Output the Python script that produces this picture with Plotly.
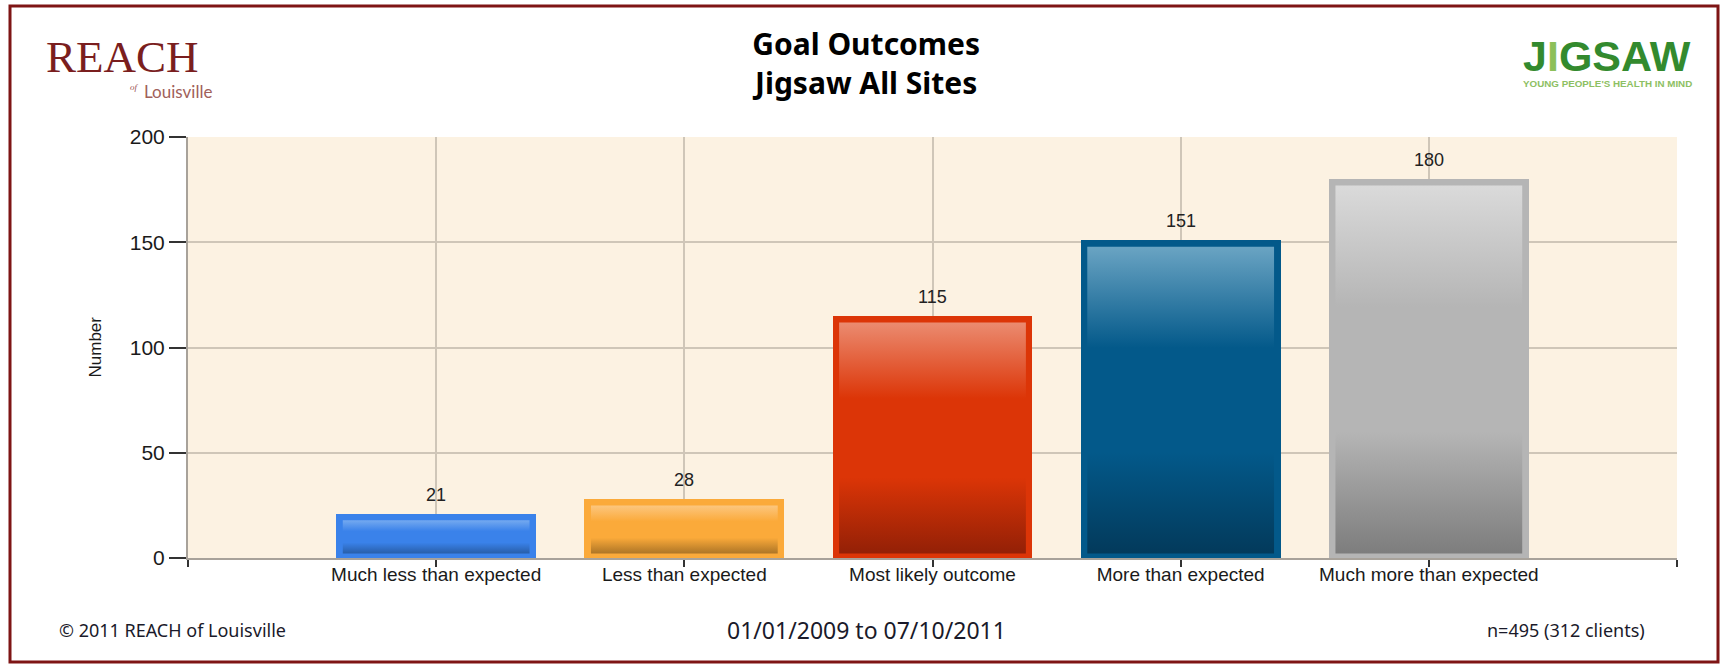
import plotly.graph_objects as go

# ---------------- data ----------------
categories = ["Much less than expected", "Less than expected", "Most likely outcome",
              "More than expected", "Much more than expected"]
values = [21, 28, 115, 151, 180]
base_colors = ["#3a82ea", "#fbaa3a", "#dc3507", "#03598a", "#b5b5b5"]
light_colors = ["#74a9f0", "#fcc67e", "#eb8b70", "#6aa4c3", "#dadada"]
dark_colors = ["#285ea8", "#ad7526", "#932006", "#033a5b", "#7d7d7d"]
y_ticks = [0, 50, 100, 150, 200]
title_lines = ["Goal Outcomes", "Jigsaw All Sites"]
footer_left = "© 2011 REACH of Louisville"
footer_center = "01/01/2009 to 07/10/2011"
footer_right = "n=495 (312 clients)"

# ---------------- geometry ----------------
W, H = 1728, 665
ML, MR, MT, MB = 188, 51, 137, 107
PW, PH = W - ML - MR, H - MT - MB
Y_MAX = 200
n = len(categories)
x_idx = list(range(n))
bar_w = 0.805
px_x = PW / (n + 1)      # pixels per x unit (range -1..n)
px_y = PH / Y_MAX        # pixels per y unit


def px(xp):  # pixel -> paper x
    return (xp - ML) / PW


def py(yp):  # pixel -> paper y
    return (H - MB - yp) / PH


fig = go.Figure()

# solid bars (border colour)
fig.add_trace(go.Bar(
    x=x_idx, y=values, width=bar_w,
    marker=dict(color=base_colors, line=dict(width=0)),
    hoverinfo="x+y", showlegend=False,
))

# gradient inner panels
inset_x = 6.5 / px_x
inset_top = 6.5 / px_y
inset_bot = 4.5 / px_y
for i, v in enumerate(values):
    x0 = x_idx[i] - bar_w / 2 + inset_x
    x1 = x_idx[i] + bar_w / 2 - inset_x
    y0 = inset_bot
    y1 = v - inset_top
    fig.add_trace(go.Scatter(
        x=[x0, x1, x1, x0, x0], y=[y0, y0, y1, y1, y0],
        mode="lines", line=dict(width=0), fill="toself",
        fillgradient=dict(type="vertical", colorscale=[
            [0, dark_colors[i]], [0.33, base_colors[i]],
            [0.67, base_colors[i]], [1, light_colors[i]]]),
        hoverinfo="skip", showlegend=False,
    ))

annotations = []
# value labels
for i, v in enumerate(values):
    annotations.append(dict(
        x=x_idx[i], y=v, xref="x", yref="y", text=str(v), showarrow=False,
        yanchor="bottom", yshift=7,
        font=dict(family="Liberation Sans, Arial", size=18, color="#222222")))

# y axis title
annotations.append(dict(
    x=px(95), y=0.5, xref="paper", yref="paper", text="Number", textangle=-90,
    showarrow=False, xanchor="center", yanchor="middle",
    font=dict(family="Liberation Sans, Arial", size=17, color="#1a1a1a")))

# footer
annotations.append(dict(
    x=px(57), y=py(630), xref="paper", yref="paper", text=footer_left, showarrow=False,
    xanchor="left", yanchor="middle",
    font=dict(family="Noto Sans", size=18, color="#1a1a2a")))
annotations.append(dict(
    x=px(866), y=py(630), xref="paper", yref="paper", text=footer_center, showarrow=False,
    xanchor="center", yanchor="middle",
    font=dict(family="Noto Sans", size=23, color="#1a1a2a")))
annotations.append(dict(
    x=px(1647), y=py(630), xref="paper", yref="paper", text=footer_right, showarrow=False,
    xanchor="right", yanchor="middle",
    font=dict(family="Noto Sans", size=18, color="#1a1a2a")))

# title
annotations.append(dict(
    x=px(866), y=py(21), xref="paper", yref="paper",
    text="<br>".join("<b>%s</b>" % t for t in title_lines), showarrow=False,
    xanchor="center", yanchor="top",
    font=dict(family="Noto Sans", size=30, color="#000000")))

# REACH logo (text)
annotations.append(dict(
    x=px(44), y=py(57), xref="paper", yref="paper", text="REACH", showarrow=False,
    xanchor="left", yanchor="middle",
    font=dict(family="Liberation Serif", size=45, color="#7a1e1e")))
annotations.append(dict(
    x=px(128), y=py(87), xref="paper", yref="paper", text="<i>of</i>", showarrow=False,
    xanchor="left", yanchor="middle",
    font=dict(family="Liberation Serif", size=9, color="#9a5050")))
annotations.append(dict(
    x=px(142), y=py(91), xref="paper", yref="paper", text="Louisville", showarrow=False,
    xanchor="left", yanchor="middle",
    font=dict(family="Lato", size=17, color="#a0605a")))

# JIGSAW logo (text)
annotations.append(dict(
    x=px(1607), y=py(56), xref="paper", yref="paper",
    text="<b>J<span style='color:#8cc05a'>I</span>GSAW</b>", showarrow=False,
    xanchor="center", yanchor="middle",
    font=dict(family="Liberation Sans", size=43, color="#338a2e")))
annotations.append(dict(
    x=px(1607), y=py(83), xref="paper", yref="paper",
    text="<b>YOUNG PEOPLE'S HEALTH IN MIND</b>", showarrow=False,
    xanchor="center", yanchor="middle",
    font=dict(family="Liberation Sans", size=9.8, color="#8dc063")))

# outer dark-red frame
shapes = [dict(
    type="rect", xref="paper", yref="paper",
    xsizemode="pixel", ysizemode="pixel", xanchor=0, yanchor=0,
    x0=10 - ML, x1=1718 - ML, y0=-(662 - (H - MB)), y1=(H - MB) - 6,
    line=dict(color="#7e1515", width=3), fillcolor="rgba(0,0,0,0)")]

fig.update_layout(
    width=W, height=H,
    margin=dict(l=ML, r=MR, t=MT, b=MB, pad=0),
    paper_bgcolor="white", plot_bgcolor="#fcf2e2",
    showlegend=False, bargap=0,
    annotations=annotations, shapes=shapes,
    xaxis=dict(
        range=[-1, n], tickmode="array",
        tickvals=[-1] + x_idx + [n], ticktext=[""] + categories + [""],
        ticks="outside", ticklen=7, tickwidth=2, tickcolor="#333333",
        ticklabelstandoff=-9,
        showline=True, linecolor="#a8a29a", linewidth=2,
        showgrid=True, gridcolor="#cfc6b8", gridwidth=1.5, zeroline=False,
        tickfont=dict(family="Liberation Sans, Arial", size=19, color="#1a1a1a"),
        fixedrange=True,
    ),
    yaxis=dict(
        range=[0, Y_MAX], tickmode="array", tickvals=y_ticks,
        ticks="outside", ticklen=17, tickwidth=2, tickcolor="#333333",
        showline=True, linecolor="#a8a29a", linewidth=2,
        showgrid=True, gridcolor="#cfc6b8", gridwidth=1.5, zeroline=False,
        tickfont=dict(family="Liberation Sans, Arial", size=21, color="#1a1a1a"),
        fixedrange=True,
    ),
)

fig.write_html("out.html", config={"displayModeBar": False},
               post_script="document.body.style.margin='0px';")
